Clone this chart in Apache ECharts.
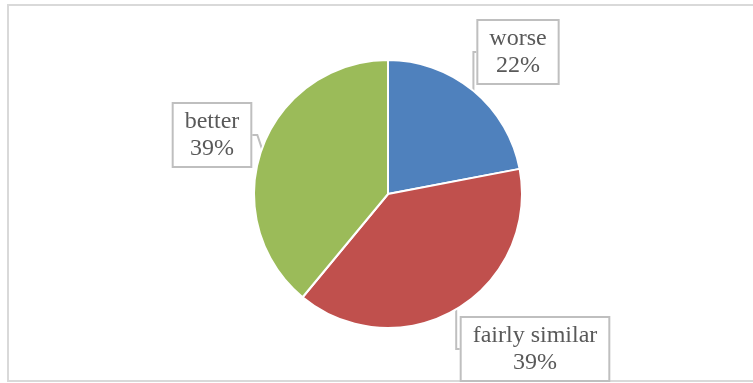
<!DOCTYPE html>
<html><head><meta charset="utf-8">
<script src="https://cdn.jsdelivr.net/npm/echarts@6/dist/echarts.min.js"></script>
<style>html,body{margin:0;padding:0;background:#fff}#c{width:753px;height:383px}</style>
</head><body><div id="c"></div>
<script>
var categories = ['worse', 'fairly similar', 'better'];
var values = [22, 39, 39];
var colors = ['#4F81BD', '#C0504D', '#9BBB59'];
var labelPos = [[518, 52], [535, 349], [212, 135]];

var chart = echarts.init(document.getElementById('c'));
chart.setOption({
  animation: false,
  graphic: [{type: 'rect', shape: {x: 8, y: 5, width: 760, height: 376}, style: {fill: 'none', stroke: '#d9d9d9', lineWidth: 2}, silent: true}],
  series: [{
    type: 'pie',
    center: [388, 194],
    radius: 134,
    startAngle: 90,
    clockwise: true,
    data: categories.map(function (c, i) { return {name: c, value: values[i], itemStyle: {color: colors[i]}}; }),
    itemStyle: {borderColor: '#fff', borderWidth: 2},
    label: {
      show: true,
      formatter: function (p) { return p.name + '\n' + p.value + '%'; },
      fontFamily: 'Liberation Serif',
      fontSize: 24,
      lineHeight: 27,
      color: '#595959',
      backgroundColor: '#fff',
      borderColor: '#bfbfbf',
      borderWidth: 2,
      padding: [4, 11, 4, 11],
      align: 'center'
    },
    labelLine: {show: true, lineStyle: {color: '#bfbfbf', width: 2}, length: 10, length2: 5},
    labelLayout: function (params) {
      var p = labelPos[params.dataIndex];
      return {x: p[0], y: p[1], align: 'center', verticalAlign: 'middle'};
    }
  }]
});
</script></body></html>
